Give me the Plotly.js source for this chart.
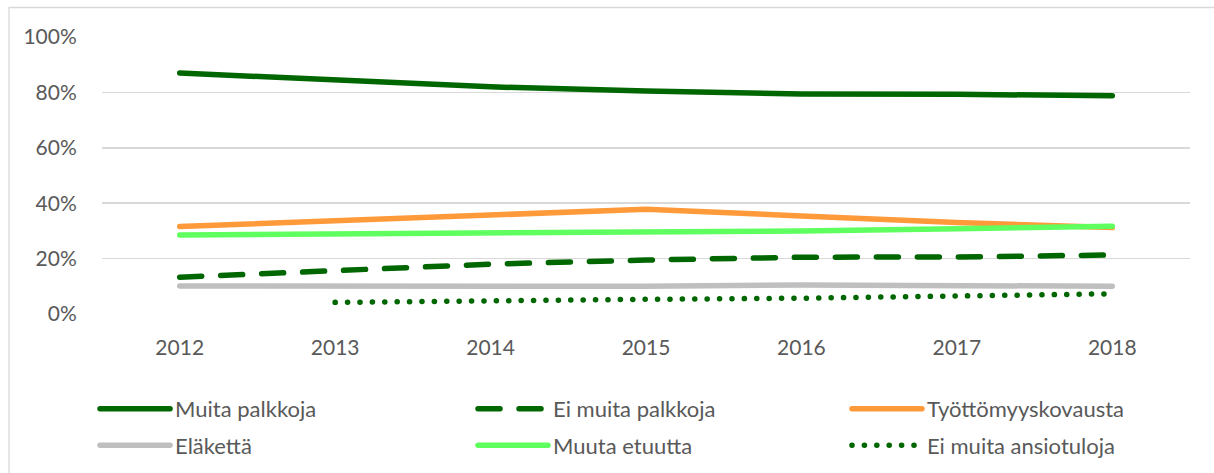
<!DOCTYPE html>
<html>
<head>
<meta charset="utf-8">
<script src="https://cdn.plot.ly/plotly-3.0.1.min.js"></script>
<style>
  html, body { margin: 0; padding: 0; background: #ffffff; }
  #chart { width: 1214px; height: 473px; }
</style>
</head>
<body>
<div id="chart"></div>
<script>
// ---- data ----
const years = ['2012', '2013', '2014', '2015', '2016', '2017', '2018'];
const muitaPalkkoja = [0.870, 0.845, 0.820, 0.805, 0.794, 0.793, 0.788];
const eiMuitaPalkkoja = [0.133, 0.158, 0.180, 0.195, 0.205, 0.206, 0.213];
const tyottomyyskorvausta = [0.316, 0.337, 0.357, 0.378, 0.354, 0.330, 0.312];
const elaketta = [0.101, 0.101, 0.100, 0.100, 0.105, 0.101, 0.100];
const muutaEtuutta = [0.285, 0.288, 0.294, 0.296, 0.300, 0.308, 0.317];
const eiMuitaAnsiotuloja = [null, 0.042, 0.049, 0.053, 0.057, 0.063, 0.073];
const yTicks = [0, 0.2, 0.4, 0.6, 0.8, 1.0];
const yTickLabels = ['0%', '20%', '40%', '60%', '80%', '100%'];

const darkGreen = '#006600';
const orange = '#FF9A3A';
const gray = '#BFBFBF';
const lightGreen = '#5FFF5F';
const textColor = '#595959';
const LW = 5.5;

function tr(name, y, color, dash, legend) {
  return {
    type: 'scatter', mode: 'lines', name: name, x: years, y: y,
    line: { color: color, width: LW, dash: dash },
    connectgaps: false, legend: legend, legendgroup: name, hoverinfo: 'skip'
  };
}

const data = [
  tr('Muita palkkoja', muitaPalkkoja, darkGreen, 'solid', 'legend'),
  tr('Ei muita palkkoja', eiMuitaPalkkoja, darkGreen, '22px,19px', 'legend2'),
  tr('Työttömyyskovausta', tyottomyyskorvausta, orange, 'solid', 'legend3'),
  tr('Eläkettä', elaketta, gray, 'solid', 'legend'),
  tr('Muuta etuutta', muutaEtuutta, lightGreen, 'solid', 'legend2'),
  tr('Ei muita ansiotuloja', eiMuitaAnsiotuloja, darkGreen, '0.1px,12.3px', 'legend3')
];

const legendBase = {
  orientation: 'v', yanchor: 'top', xanchor: 'left',
  font: { family: 'Lato, sans-serif', size: 22, color: textColor },
  bgcolor: 'rgba(0,0,0,0)', borderwidth: 0, itemwidth: 70,
  tracegroupgap: 5, traceorder: 'grouped', itemclick: false
};

const layout = {
  width: 1214, height: 473,
  margin: { l: 102, r: 24, t: 37, b: 159, autoexpand: false },
  paper_bgcolor: '#ffffff', plot_bgcolor: '#ffffff',
  font: { family: 'Lato, sans-serif', size: 21, color: textColor },
  showlegend: true,
  xaxis: {
    type: 'category', range: [-0.5, 6.5], showgrid: false, zeroline: false, showline: false,
    ticks: 'outside', ticklen: 15, tickcolor: 'rgba(0,0,0,0)',
    tickfont: { family: 'Lato, sans-serif', size: 21, color: textColor },
    fixedrange: true
  },
  yaxis: {
    range: [0, 1], tickvals: yTicks, ticktext: yTickLabels,
    showgrid: true, gridcolor: '#D9D9D9', gridwidth: 1.5,
    zeroline: false, showline: false,
    ticks: 'outside', ticklen: 20, tickcolor: 'rgba(0,0,0,0)',
    tickfont: { family: 'Lato, sans-serif', size: 21, color: textColor },
    fixedrange: true
  },
  legend: Object.assign({}, legendBase, { x: -0.0064, y: -0.267 }),
  legend2: Object.assign({}, legendBase, { x: 0.341, y: -0.267 }),
  legend3: Object.assign({}, legendBase, { x: 0.6847, y: -0.267 }),
  shapes: [{
    type: 'rect', xref: 'paper', yref: 'paper',
    x0: (9 - 102) / 1088, x1: (1300 - 102) / 1088,
    y0: (313 - 520) / 277, y1: (313 - 6.5) / 277,
    line: { color: '#D9D9D9', width: 1.3 }, fillcolor: 'rgba(0,0,0,0)', layer: 'below'
  }]
};

Plotly.newPlot('chart', data, layout, { displayModeBar: false, staticPlot: true }).then(function () {
  document.querySelectorAll('path.js-line').forEach(function (p) {
    p.style.strokeLinecap = 'round';
    p.style.strokeLinejoin = 'round';
  });
});
</script>
</body>
</html>
